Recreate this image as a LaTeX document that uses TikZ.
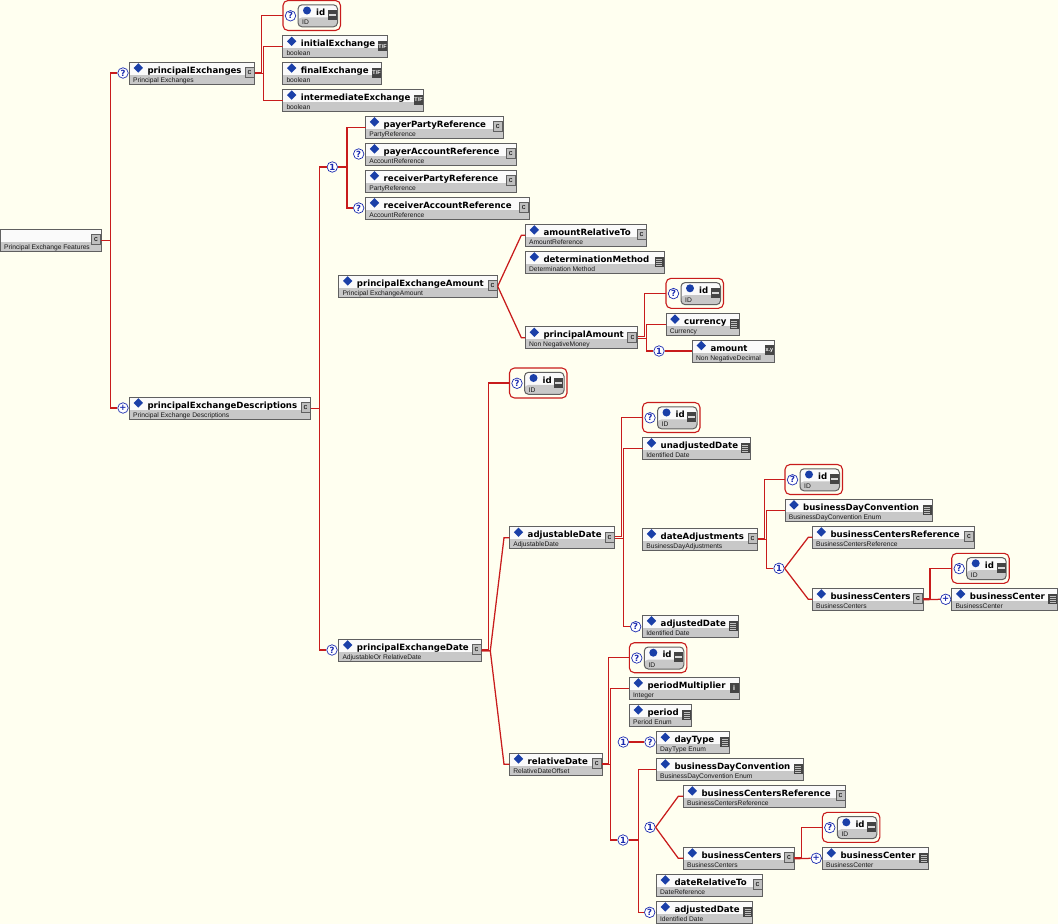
\documentclass[tikz,border=0pt]{standalone}
\usepackage{fontspec}
\setmainfont{DejaVu Sans}
\newfontfamily\typefont{Liberation Sans}
\usetikzlibrary{shapes.geometric}
\definecolor{pagebg}{HTML}{FFFFF0}
\definecolor{wirered}{HTML}{C81C1C}
\definecolor{boxedge}{HTML}{606060}
\definecolor{bandgray}{HTML}{C8C8C8}
\definecolor{markblue}{HTML}{1A3FA8}
\definecolor{occurblue}{HTML}{1C2CB0}
\definecolor{icondark}{HTML}{454545}
\tikzset{
    wire/.style={draw=wirered,line width=1.25pt},
    elem/.style={draw=boxedge,line width=1pt,fill=white!98!black,anchor=north west,inner sep=0pt,outer sep=0pt,minimum height=22pt,
        path picture={\fill[bandgray] ([yshift=-12.6pt]path picture bounding box.north west) rectangle (path picture bounding box.south east);}},
    idframe/.style={draw=wirered,line width=1.1pt,rounded corners=5pt,anchor=north west,inner sep=0pt,outer sep=0pt,minimum width=57.5pt,minimum height=30pt},
    idelem/.style={elem,rounded corners=4pt,minimum width=39.5pt},
    titletext/.style={anchor=base west,inner sep=0pt,font=\bfseries\fontsize{8.6}{10}\selectfont},
    typetext/.style={anchor=base west,inner sep=0pt,text=black!90,font=\typefont\fontsize{6.7}{8}\selectfont},
    diamondmark/.style={diamond,fill=markblue,inner sep=0pt,minimum size=9.5pt},
    roundmark/.style={circle,fill=markblue,inner sep=0pt,minimum size=8pt},
    occur/.style={circle,draw=occurblue,fill=white,line width=0.7pt,inner sep=0pt,minimum size=10.5pt,text=occurblue,font=\bfseries\fontsize{8.5}{9}\selectfont},
    icon/.style={inner sep=0pt,outer sep=0pt,minimum width=9pt,minimum height=10pt,text=white,font=\typefont\bfseries\fontsize{5.4}{6}\selectfont},
    iconc/.style={icon,draw=boxedge,line width=0.9pt,fill=black!25,text=black,font=\typefont\fontsize{7.5}{8}\selectfont,node contents={c}},
    iconbool/.style={icon,fill=icondark,node contents={T/F}},
    icondec/.style={icon,fill=icondark,node contents={x.y}},
    iconint/.style={icon,fill=icondark,font=\typefont\bfseries\fontsize{7}{8}\selectfont,node contents={i}},
    iconenum/.style={icon,fill=icondark,node contents={},
        path picture={\foreach \k in {2,4,6,8}
            \fill[white!75!black] ([shift={(1.5pt,-\k pt)}]path picture bounding box.north west) rectangle ++(6pt,-1pt);}},
    iconid/.style={icon,fill=icondark,node contents={},
        path picture={\fill[white!85!black] ([shift={(1pt,-4pt)}]path picture bounding box.north west) rectangle ++(7pt,-2pt);}},
}
% element box: name, x, y, width, title, type, icon
\newcommand{\elem}[7]{
    \node[elem,minimum width=#4] (#1) at (#2,#3) {};
    \node[diamondmark] (#1mark) at ([shift={(9,5.6)}]#1.north west) {};
    \node[titletext] (#1title) at ([shift={(18,11.2)}]#1.north west) {#5};
    \node[typetext] (#1type) at ([shift={(3.6,20)}]#1.north west) {#6};
    \node[#7,name=#1icon,at={([shift={(-5.2,10.4)}]#1.north east)}];
}
% id group: name, x, y
\newcommand{\idgroup}[3]{
    \node[idframe] (#1) at (#2,#3) {};
    \node[occur] (#1q) at ([shift={(7.5,15.3)}]#1.north west) {?};
    \node[idelem] (#1in) at ([shift={(15,4.3)}]#1.north west) {};
    \node[roundmark] (#1mark) at ([shift={(9,5.7)}]#1in.north west) {};
    \node[titletext] (#1title) at ([shift={(18,10.8)}]#1in.north west) {id};
    \node[typetext] (#1type) at ([shift={(4,20)}]#1in.north west) {ID};
    \node[iconid,name=#1icon,at={([shift={(-5.2,10.4)}]#1in.north east)}];
}
\begin{document}
\begin{tikzpicture}[x=1pt,y=-1pt]
    \useasboundingbox (0,0) rectangle (1058,924);
    \fill[pagebg] (0,0) rectangle (1058,924);

    % Root
    \node[elem,minimum width=101.3pt] (root) at (0,229.3) {};
    \node[typetext] (roottype) at ([shift={(4,20)}]root.north west) {Principal Exchange Features};
    \node[iconc,name=rooticon,at={([shift={(-5.2,10.4)}]root.north east)}];
    \node[occur] (qExchanges) at (123,73) {?};
    \node[occur] (plusDescriptions) at (123,408) {+};

    % principalExchanges
    \elem{principalExchanges}{129.3}{62.3}{125.4pt}{principalExchanges}{Principal Exchanges}{iconc}
    \idgroup{idA}{283}{0.5}
    \elem{initialExchange}{282.7}{35.7}{105pt}{initialExchange}{boolean}{iconbool}
    \elem{finalExchange}{282.7}{62.5}{99pt}{finalExchange}{boolean}{iconbool}
    \elem{intermediateExchange}{282.7}{89.5}{141pt}{intermediateExchange}{boolean}{iconbool}

    % principalExchangeDescriptions
    \elem{descriptions}{129.3}{397.3}{181.5pt}{principalExchangeDescriptions}{Principal Exchange Descriptions}{iconc}
    \node[occur] (oneParty) at (332.3,167) {1};
    \node[occur] (qPayerAccount) at (358.7,154) {?};
    \node[occur] (qReceiverAccount) at (358.7,208) {?};
    \elem{payerParty}{365.5}{116.3}{137.5pt}{payerPartyReference}{PartyReference}{iconc}
    \elem{payerAccount}{365.5}{143.3}{150.5pt}{payerAccountReference}{AccountReference}{iconc}
    \elem{receiverParty}{365.5}{170.2}{150.5pt}{receiverPartyReference}{PartyReference}{iconc}
    \elem{receiverAccount}{365.5}{197.3}{163.5pt}{receiverAccountReference}{AccountReference}{iconc}

    % principalExchangeAmount
    \elem{amountMain}{338.7}{275.3}{159pt}{principalExchangeAmount}{Principal ExchangeAmount}{iconc}
    \elem{amountRelativeTo}{525.3}{224.3}{121.5pt}{amountRelativeTo}{AmountReference}{iconc}
    \elem{determination}{525.3}{251.3}{139pt}{determinationMethod}{Determination Method}{iconenum}
    \elem{principalAmount}{525.3}{326.7}{112.3pt}{principalAmount}{Non NegativeMoney}{iconc}
    \idgroup{idB}{666}{278.3}
    \elem{currency}{666}{313.5}{73.5pt}{currency}{Currency}{iconenum}
    \node[occur] (oneAmount) at (659,351) {1};
    \elem{amount}{692.3}{340}{82.3pt}{amount}{Non NegativeDecimal}{icondec}

    % principalExchangeDate
    \node[occur] (qDate) at (332,650) {?};
    \elem{dateMain}{338.7}{639.3}{143pt}{principalExchangeDate}{AdjustableOr RelativeDate}{iconc}
    \idgroup{idC}{509.5}{368}
    \elem{adjustableDate}{509.5}{526.7}{105.2pt}{adjustableDate}{AdjustableDate}{iconc}
    \elem{relativeDate}{509.5}{753.3}{92.5pt}{relativeDate}{RelativeDateOffset}{iconc}

    % adjustableDate
    \idgroup{idD}{642.5}{402.5}
    \elem{unadjustedDate}{642.5}{437.3}{108pt}{unadjustedDate}{Identified Date}{iconenum}
    \elem{dateAdjustments}{642.5}{528.3}{115.2pt}{dateAdjustments}{BusinessDayAdjustments}{iconc}
    \node[occur] (qAdjusted) at (635.7,626.7) {?};
    \elem{adjustedDateA}{642.5}{615.3}{96pt}{adjustedDate}{Identified Date}{iconenum}
    \idgroup{idE}{785}{464.5}
    \elem{conventionA}{785}{499.3}{147.3pt}{businessDayConvention}{BusinessDayConvention Enum}{iconenum}
    \node[occur] (oneCentersA) at (779,568.3) {1};
    \elem{centersRefA}{812.3}{526.3}{162pt}{businessCentersReference}{BusinessCentersReference}{iconc}
    \elem{centersA}{812.3}{588.3}{111pt}{businessCenters}{BusinessCenters}{iconc}
    \idgroup{idF}{951.7}{553.3}
    \node[occur] (plusCenterA) at (945.7,599.3) {+};
    \elem{centerA}{951.7}{588.3}{106pt}{businessCenter}{BusinessCenter}{iconenum}

    % relativeDate
    \idgroup{idG}{629.3}{642.7}
    \elem{periodMultiplier}{629.3}{677.3}{110pt}{periodMultiplier}{Integer}{iconint}
    \elem{period}{629.3}{704.3}{62.4pt}{period}{Period Enum}{iconenum}
    \node[occur] (oneDayType) at (623.3,742) {1};
    \node[occur] (qDayType) at (650,742) {?};
    \elem{dayType}{656.3}{731.7}{73.4pt}{dayType}{DayType Enum}{iconenum}
    \node[occur] (oneConvention) at (623,840) {1};
    \elem{conventionB}{656.3}{758.3}{147pt}{businessDayConvention}{BusinessDayConvention Enum}{iconenum}
    \node[occur] (oneCentersB) at (650,827.3) {1};
    \elem{centersRefB}{683.3}{785.3}{162.4pt}{businessCentersReference}{BusinessCentersReference}{iconc}
    \elem{centersB}{683.3}{847.3}{111pt}{businessCenters}{BusinessCenters}{iconc}
    \idgroup{idH}{822.3}{812.3}
    \node[occur] (plusCenterB) at (816.3,858.3) {+};
    \elem{centerB}{822.3}{847.3}{106.4pt}{businessCenter}{BusinessCenter}{iconenum}
    \elem{dateRelativeTo}{656.3}{874.3}{106.4pt}{dateRelativeTo}{DateReference}{iconc}
    \node[occur] (qAdjustedB) at (649.7,912.3) {?};
    \elem{adjustedDateB}{656.3}{901.3}{96.4pt}{adjustedDate}{Identified Date}{iconenum}

    % Connectors
    \draw[wire] (root.east) -- ++(9,0) |- (qExchanges.west);
    \draw[wire] (root.east) -- ++(9,0) |- (plusDescriptions.west);
    \draw[wire] ([yshift=1pt]principalExchanges.east) -- ++(6.6,0) |- (idA.west);
    \draw[wire] ([yshift=-0.5pt]principalExchanges.east) -- ++(8.6,0) |- (initialExchange.west);
    \draw[wire] ([yshift=-0.5pt]principalExchanges.east) -- ++(8.6,0) |- (intermediateExchange.west);

    \draw[wire] (descriptions.east) -- ++(8.5,0) |- (oneParty.west);
    \draw[wire] (descriptions.east) -- ++(8.5,0) |- (qDate.west);
    \draw[wire] (oneParty.east) -- ++(9.2,0) |- (payerParty.west);
    \draw[wire] (oneParty.east) -- ++(9.2,0) |- (qReceiverAccount.west);

    \draw[wire] (amountMain.east) -- ([xshift=-4pt]amountRelativeTo.west) -- (amountRelativeTo.west);
    \draw[wire] (amountMain.east) -- ([xshift=-4pt]principalAmount.west) -- (principalAmount.west);
    \draw[wire] ([yshift=1pt]principalAmount.east) -- ++(7,0) |- (idB.west);
    \draw[wire] ([yshift=-0.5pt]principalAmount.east) -- ++(9,0) |- (currency.west);
    \draw[wire] ([yshift=-0.5pt]principalAmount.east) -- ++(9,0) |- (oneAmount.west);
    \draw[wire] (oneAmount.east) -- (amount.west |- oneAmount.east);

    \draw[wire] ([yshift=1pt]dateMain.east) -- ++(6.6,0) |- (idC.west);
    \draw[wire] ([yshift=-0.5pt]dateMain.east) -- ++(8.6,0) -- ([xshift=-5.5pt]adjustableDate.west) -- (adjustableDate.west);
    \draw[wire] ([yshift=-0.5pt]dateMain.east) -- ++(8.6,0) -- ([xshift=-5.5pt]relativeDate.west) -- (relativeDate.west);

    \draw[wire] ([yshift=1pt]adjustableDate.east) -- ++(6.6,0) |- (idD.west);
    \draw[wire] ([yshift=-0.5pt]adjustableDate.east) -- ++(8.6,0) |- (unadjustedDate.west);
    \draw[wire] ([yshift=-0.5pt]adjustableDate.east) -- ++(8.6,0) |- (qAdjusted.west);
    \draw[wire] ([yshift=1pt]dateAdjustments.east) -- ++(7,0) |- (idE.west);
    \draw[wire] ([yshift=-0.5pt]dateAdjustments.east) -- ++(8.6,0) |- (conventionA.west);
    \draw[wire] ([yshift=-0.5pt]dateAdjustments.east) -- ++(8.6,0) |- (oneCentersA.west);
    \draw[wire] (oneCentersA.east) -- ([xshift=-4pt]centersRefA.west) -- (centersRefA.west);
    \draw[wire] (oneCentersA.east) -- ([xshift=-4pt]centersA.west) -- (centersA.west);
    \draw[wire] ([yshift=1pt]centersA.east) -- ++(6.7,0) |- (idF.west);
    \draw[wire] ([yshift=-0.5pt]centersA.east) -- (plusCenterA.west |- centersA.east);

    \draw[wire] ([yshift=1pt]relativeDate.east) -- ++(6.4,0) |- (idG.west);
    \draw[wire] ([yshift=-0.5pt]relativeDate.east) -- ++(8.7,0) |- (periodMultiplier.west);
    \draw[wire] ([yshift=-0.5pt]relativeDate.east) -- ++(8.7,0) |- (oneConvention.west);
    \draw[wire] (oneDayType.east) -- (qDayType.west);
    \draw[wire] (oneConvention.east) -- ++(9.7,0) |- (conventionB.west);
    \draw[wire] (oneConvention.east) -- ++(9.7,0) |- (qAdjustedB.west);
    \draw[wire] (oneCentersB.east) -- ([xshift=-5pt]centersRefB.west) -- (centersRefB.west);
    \draw[wire] (oneCentersB.east) -- ([xshift=-5pt]centersB.west) -- (centersB.west);
    \draw[wire] ([yshift=1pt]centersB.east) -- ++(7,0) |- (idH.west);
    \draw[wire] ([yshift=-0.5pt]centersB.east) -- (plusCenterB.west |- centersB.east);
\end{tikzpicture}
\end{document}
